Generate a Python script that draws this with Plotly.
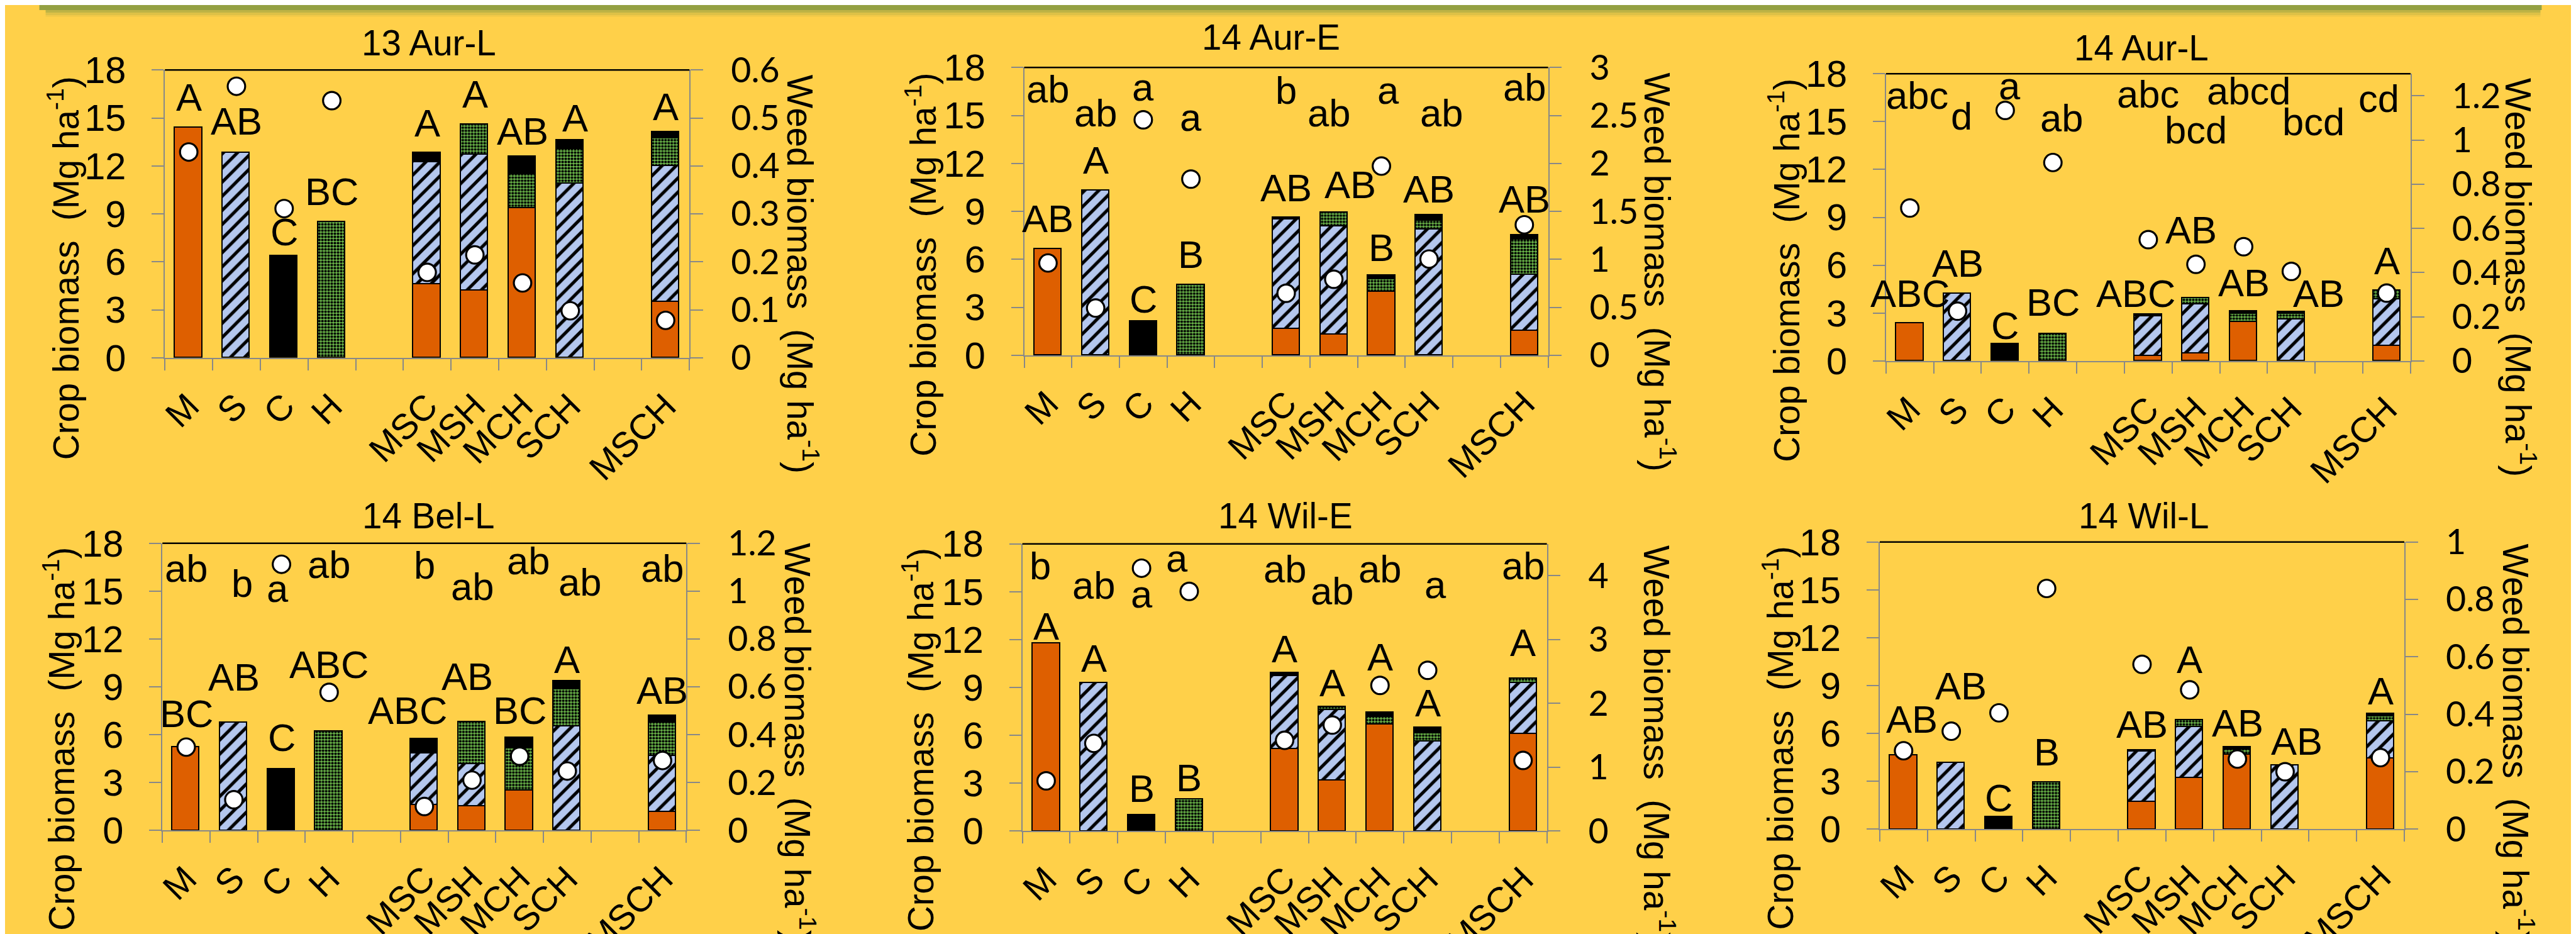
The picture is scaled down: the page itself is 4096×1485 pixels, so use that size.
import plotly.graph_objects as go

S = 0.992            # drawing scale (reference -> window)
W, H = 4096, 1485
RW, RH = 4125, 1496  # reference size

# ---------------- data ----------------
PANELS = ["13 Aur-L", "14 Aur-E", "14 Aur-L", "14 Bel-L", "14 Wil-E", "14 Wil-L"]
CATEGORIES = ["M", "S", "C", "H", "", "MSC", "MSH", "MCH", "SCH", "", "MSCH"]
WEED_MAX = [0.6, 3.0, 1.3, 1.2, 4.5, 1.0]
WEED_DTICK = [0.1, 0.5, 0.2, 0.2, 1.0, 0.2]
CROP_TICKS = [0, 3, 6, 9, 12, 15, 18]

N = None
MAIZE = [
    [14.4, N, N, N, N, 4.6, 4.2, 9.35, N, N, 3.5],
    [6.64, N, N, N, N, 1.63, 1.29, 3.96, N, N, 1.5],
    [2.37, N, N, N, N, 0.32, 0.47, 2.44, N, N, 0.95],
    [5.24, N, N, N, N, 1.6, 1.51, 2.49, N, N, 1.17],
    [11.76, N, N, N, N, 5.13, 3.17, 6.69, N, N, 6.09],
    [4.64, N, N, N, N, 1.72, 3.2, 4.67, N, N, 4.43],
]
SOYBEAN = [
    [N, 12.8, N, N, N, 7.61, 8.48, N, 10.88, N, 8.48],
    [N, 10.3, N, N, N, 6.85, 6.77, N, 7.86, N, 3.52],
    [N, 4.19, N, N, N, 2.47, 3.07, N, 2.58, N, 2.88],
    [N, 6.75, N, N, N, 3.24, 2.67, N, 6.54, N, 3.49],
    [N, 9.27, N, N, N, 4.61, 4.41, N, 5.62, N, 3.18],
    [N, 4.18, N, N, N, 3.16, 3.23, N, 4.0, N, 2.35],
]
HEMP = [
    [N, N, N, 8.5, N, N, 1.91, 2.14, 2.18, N, 1.72],
    [N, N, N, 4.39, N, N, 0.84, 0.79, 0.56, N, 2.19],
    [N, N, N, 1.69, N, N, 0.38, 0.5, 0.36, N, 0.57],
    [N, N, N, 6.22, N, N, 2.64, 2.64, 2.3, N, 2.11],
    [N, N, N, 1.98, N, N, 0.22, 0.47, 0.52, N, 0.29],
    [N, N, N, 2.96, N, N, 0.41, 0.34, N, N, 0.29],
]
CANOLA = [
    [N, N, 6.34, N, N, 0.6, N, 1.08, 0.55, N, 0.42],
    [N, N, 2.12, N, N, 0.13, N, 0.23, 0.34, N, 0.29],
    [N, N, 1.04, N, N, 0.11, N, 0.17, 0.13, N, N],
    [N, N, 3.84, N, N, 0.91, N, 0.67, 0.51, N, 0.43],
    [N, N, 1.0, N, N, 0.17, N, 0.27, 0.34, N, N],
    [N, N, 0.77, N, N, 0.08, N, 0.12, N, N, 0.15],
]
WEED = [
    [0.429, 0.566, 0.311, 0.536, N, 0.178, 0.2145, 0.156, 0.098, N, 0.078],
    [0.962, 0.492, 2.454, 1.836, N, 0.647, 0.792, 1.972, 1.003, N, 1.36],
    [0.692, 0.225, 1.134, 0.898, N, 0.549, 0.437, 0.517, 0.405, N, 0.307],
    [0.348, 0.128, 1.112, 0.577, N, 0.1, 0.21, 0.31, 0.248, N, 0.292],
    [0.786, 1.374, 4.118, 3.755, N, 1.421, 1.661, 2.282, 2.518, N, 1.106],
    [0.273, 0.341, 0.405, 0.838, N, 0.574, 0.485, 0.244, 0.2, N, 0.249],
]
CROP_LETTERS = [
    ["A", "AB", "C", "BC", "", "A", "A", "AB", "A", "", "A"],
    ["AB", "A", "C", "B", "", "AB", "AB", "B", "AB", "", "AB"],
    ["ABC", "AB", "C", "BC", "", "ABC", "AB", "AB", "AB", "", "A"],
    ["BC", "AB", "C", "ABC", "", "ABC", "AB", "BC", "A", "", "AB"],
    ["A", "A", "B", "B", "", "A", "A", "A", "A", "", "A"],
    ["AB", "AB", "C", "B", "", "AB", "A", "AB", "AB", "", "A"],
]
WEED_LETTERS = [
    ["", "", "", "", "", "", "", "", "", "", ""],
    ["ab", "ab", "a", "a", "", "b", "ab", "a", "ab", "", "ab"],
    ["abc", "d", "a", "ab", "", "abc", "bcd", "abcd", "bcd", "", "cd"],
    ["ab", "b", "a", "ab", "", "b", "ab", "ab", "ab", "", "ab"],
    ["b", "ab", "a", "a", "", "ab", "ab", "ab", "a", "", "ab"],
    ["", "", "", "", "", "", "", "", "", "", ""],
]

# ---------------- label placement (crop-axis units / slot offsets) ----------------
CROP_LETTER_Y = [
    [15.4, 13.9, 7.0, 9.5, N, 13.8, 15.6, 13.3, 14.1, N, 14.8],
    [7.68, 11.32, 2.61, 5.41, N, 9.58, 9.77, 5.87, 9.52, N, 8.9],
    [3.35, 5.25, 1.31, 2.79, N, 3.35, 7.33, 4.02, 3.35, N, 5.38],
    [6.45, 8.71, 4.94, 9.5, N, 6.63, 8.74, 6.63, 9.84, N, 7.9],
    [11.97, 9.95, 1.79, 2.45, N, 10.52, 8.39, 10.03, 7.16, N, 10.93],
    [5.99, 8.07, 1.09, 3.96, N, 5.67, 9.76, 5.75, 4.62, N, 7.78],
]
CROP_LETTER_DX = [
    [0, 0, 0, 0, 0, 0, 0, 0, 0.1, 0, 0],
    [0, 0, 0, 0, 0, 0, 0.35, 0, 0, 0, 0],
    [0, 0, 0, 0, 0, -0.26, -0.1, 0, 0.57, 0, 0],
    [0, 0, 0, 0, 0, -0.35, -0.1, 0, 0, 0, 0],
    [0, 0, 0, 0, 0, 0, 0, 0, 0, 0, 0],
    [0.17, 0.2, 0, 0, 0, 0, 0, 0, 0.24, 0, 0],
]
WEED_LETTER_Y = [
    [N] * 11,
    [15.77, 14.25, 15.9, 14.0, N, 15.67, 14.25, 15.67, 14.25, N, 15.9],
    [15.76, 14.44, 16.33, 14.34, N, 15.85, 13.58, 16.05, 14.12, N, 15.57],
    [15.53, 14.6, 14.27, 15.77, N, 15.74, 14.4, 16.0, 14.68, N, 15.53],
    [15.74, 14.51, 13.98, 16.21, N, 15.55, 14.17, 15.55, 14.55, N, 15.74],
    [N] * 11,
]
WEED_LETTER_DX = [
    [0] * 11,
    [0, 0, 0, 0, 0, 0, -0.1, 0.14, 0.26, 0, 0],
    [0.15, 0.08, 0.1, 0.18, 0, 0, 0, 0.1, 0.46, 0, -0.16],
    [0, 0.18, -0.08, 0, 0, 0, 0, 0.18, 0.26, 0, 0],
    [-0.12, 0, 0, -0.25, 0, 0, 0, 0, 0.16, 0, 0],
    [0] * 11,
]

# plot boxes in reference pixels (left, top, right, bottom)
PLOT_BOX = [(256, 104, 1096, 565), (1632, 100, 2471, 561), (3012, 110, 3852, 570),
            (252, 862, 1091, 1322), (1629, 863, 2469, 1323), (3002, 860, 3842, 1320)]
TITLE_POS = [(679, 82), (2027, 73), (3421, 90), (678, 839), (2050, 839), (3425, 839)]
LEFT_TITLE_POS = [(94, 421), (1467, 416), (2849, 425), (87, 1175), (1463, 1177), (2840, 1174)]
RIGHT_TITLE_POS = [(1277, 431), (2650, 428), (4028, 436), (1272, 1181), (2648, 1185), (4024, 1182)]

# ---------------- styles ----------------
BG = "#FFD049"
ORANGE = "#DE5F00"
BLUE = "#B4C7EE"
GREEN = "#6CB84A"
AXGRAY = "#888888"
OLIVE = "#93A042"
FONT = "Liberation Sans"
LETTER_SIZE = 62 * S
TICK_SIZE = 60 * S
XTICK_SIZE = 57 * S
TITLE_SIZE = 57 * S
AXTITLE_SIZE = 57 * S
RTICK_SIZE = 56 * S


def fx(x):
    return x / RW


def fy(y):
    return 1 - y / RH


fig = go.Figure()
xs = list(range(len(CATEGORIES)))
tick_idx = [i for i, c in enumerate(CATEGORIES) if c]
annotations = []
shapes = []
layout = {}

for p in range(6):
    sfx = "" if p == 0 else str(p + 1)
    xa = "x" + sfx
    ya = "y" + sfx
    yr = f"y{p + 7}"
    l, t, r, b = PLOT_BOX[p]

    series = [
        (MAIZE[p], dict(color=ORANGE)),
        (SOYBEAN[p], dict(color=BLUE, pattern=dict(shape="/", fgcolor="black", bgcolor=BLUE,
                                                   size=16 * S, solidity=0.32, fillmode="replace"))),
        (HEMP[p], dict(color=GREEN, pattern=dict(shape=".", fgcolor="black", bgcolor=GREEN,
                                                 size=5 * S, solidity=0.55, fillmode="replace"))),
        (CANOLA[p], dict(color="black")),
    ]
    for vals, mk in series:
        mk = dict(mk)
        mk["line"] = dict(color="black", width=2 * S)
        fig.add_trace(go.Bar(x=xs, y=vals, xaxis=xa, yaxis=ya, width=0.57, marker=mk,
                             showlegend=False))

    wx = [i for i in xs if WEED[p][i] is not None]
    wy = [WEED[p][i] for i in wx]
    fig.add_trace(go.Scatter(x=wx, y=wy, xaxis=xa, yaxis=yr, mode="markers", showlegend=False,
                             marker=dict(symbol="circle", size=28 * S, color="white",
                                         line=dict(color="black", width=3.2 * S))))

    layout["xaxis" + sfx] = dict(
        domain=[fx(l), fx(r)], anchor=ya, range=[-0.5, 10.5], automargin=False,
        tickmode="array", tickvals=tick_idx, ticktext=[CATEGORIES[i] for i in tick_idx],
        tickangle=-45, ticks="", ticklabelstandoff=int(20 * S),
        tickfont=dict(family=FONT, size=XTICK_SIZE, color="black"),
        showline=True, linecolor=AXGRAY, linewidth=2 * S, showgrid=False, zeroline=False,
        minor=dict(ticks="outside", ticklen=18 * S, tickwidth=2 * S, tickcolor=AXGRAY,
                   tick0=0.5, dtick=1, showgrid=False),
    )
    layout["yaxis" + sfx] = dict(
        domain=[fy(b), fy(t)], anchor=xa, range=[0, 18], automargin=False,
        tickmode="array", tickvals=CROP_TICKS,
        ticks="outside", ticklen=19 * S, tickwidth=2 * S, tickcolor=AXGRAY,
        ticklabelstandoff=int(30 * S),
        tickfont=dict(family=FONT, size=TICK_SIZE, color="black"),
        showline=True, linecolor=AXGRAY, linewidth=2 * S, showgrid=False, zeroline=False,
    )
    layout[f"yaxis{p + 7}"] = dict(
        domain=[fy(b), fy(t)], anchor=xa, overlaying=ya, side="right", automargin=False,
        range=[0, WEED_MAX[p]], tick0=0, dtick=WEED_DTICK[p],
        ticks="outside", ticklen=20 * S, tickwidth=2 * S, tickcolor=AXGRAY,
        ticklabelstandoff=int(34 * S),
        tickfont=dict(family="Lato", size=RTICK_SIZE, color="black"),
        showline=True, linecolor=AXGRAY, linewidth=2 * S, showgrid=False, zeroline=False,
    )

    # black top border of the plot area
    shapes.append(dict(type="line", xref=f"{xa} domain", yref=f"{ya} domain",
                       x0=0, x1=1, y0=1, y1=1, line=dict(color="black", width=2.5 * S)))

    # letters
    for i in xs:
        if CROP_LETTERS[p][i]:
            annotations.append(dict(
                x=i + CROP_LETTER_DX[p][i], y=CROP_LETTER_Y[p][i], xref=xa, yref=ya,
                text=CROP_LETTERS[p][i], showarrow=False, xanchor="center", yanchor="bottom",
                yshift=-14 * S, font=dict(family=FONT, size=LETTER_SIZE, color="black")))
        if WEED_LETTERS[p][i]:
            annotations.append(dict(
                x=i + WEED_LETTER_DX[p][i], y=WEED_LETTER_Y[p][i], xref=xa, yref=ya,
                text=WEED_LETTERS[p][i], showarrow=False, xanchor="center", yanchor="bottom",
                yshift=-14 * S, font=dict(family=FONT, size=LETTER_SIZE, color="black")))

    tx, ty = TITLE_POS[p]
    annotations.append(dict(x=fx(tx), y=fy(ty + 13), xref="paper", yref="paper",
                            text=PANELS[p], showarrow=False, xanchor="center", yanchor="bottom",
                            font=dict(family=FONT, size=TITLE_SIZE, color="black")))
    lx, ly = LEFT_TITLE_POS[p]
    annotations.append(dict(x=fx(lx), y=fy(ly), xref="paper", yref="paper",
                            text="Crop biomass\u00a0 (Mg ha<sup>-1</sup>)", textangle=-90,
                            showarrow=False, xanchor="center", yanchor="middle",
                            font=dict(family=FONT, size=AXTITLE_SIZE, color="black")))
    rx, ry = RIGHT_TITLE_POS[p]
    annotations.append(dict(x=fx(rx), y=fy(ry), xref="paper", yref="paper",
                            text="Weed biomass\u00a0 (Mg ha<sup>-1</sup>)", textangle=90,
                            showarrow=False, xanchor="center", yanchor="middle",
                            font=dict(family=FONT, size=AXTITLE_SIZE, color="black")))

# top olive band with soft shadow
shapes.append(dict(type="rect", xref="paper", yref="paper", x0=fx(55), x1=fx(4062),
                   y0=fy(8), y1=1, fillcolor=OLIVE, line=dict(width=0), layer="below"))
for (ya0, ya1, op) in [(8, 12, 0.6), (12, 16, 0.3), (16, 19, 0.12)]:
    shapes.append(dict(type="rect", xref="paper", yref="paper", x0=fx(65), x1=fx(4060),
                       y0=fy(ya1), y1=fy(ya0), fillcolor=OLIVE, opacity=op,
                       line=dict(width=0), layer="below"))

fig.update_layout(
    width=W, height=H, autosize=False, margin=dict(l=0, r=0, t=0, b=0, pad=0),
    paper_bgcolor=BG, plot_bgcolor=BG, barmode="stack", bargap=0,
    annotations=annotations, shapes=shapes, showlegend=False, **layout,
)

fig.write_html("out.html")
